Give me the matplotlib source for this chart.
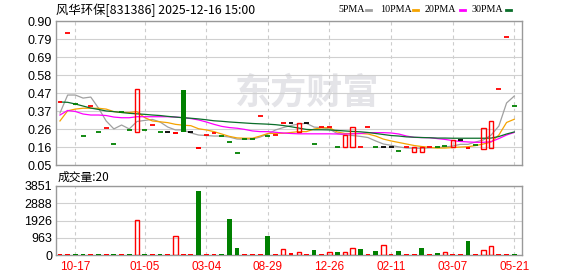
import numpy as np
import matplotlib
matplotlib.use('Agg')
import matplotlib.pyplot as plt
from matplotlib.lines import Line2D

plt.rcParams['font.family'] = ['Liberation Sans', 'Noto Sans CJK SC', 'DejaVu Sans']

# daily candles: open / close / colour kind (r red dash or small body, g green, k flat, h hollow red)
opens = [0.42, 0.827, 0.41, 0.223, 0.398, 0.243, 0.267, 0.172, 0.36, 0.257,
         0.247, 0.257, 0.286, 0.243, 0.243, 0.243, 0.493, 0.243, 0.158, 0.227,
         0.24, 0.223, 0.186, 0.119, 0.205, 0.205, 0.339, 0.221, 0.23, 0.296,
         0.296, 0.243, 0.296, 0.174, 0.272, 0.272, 0.155, 0.158, 0.158, 0.158,
         0.272, 0.155, 0.155, 0.155, 0.135, 0.158, 0.125, 0.125, 0.158, 0.158,
         0.165, 0.158, 0.198, 0.158, 0.17, 0.145, 0.148, 0.497, 0.806, 0.396]
closes = [0.42, 0.827, 0.41, 0.223, 0.398, 0.243, 0.267, 0.172, 0.36, 0.257,
          0.497, 0.257, 0.286, 0.243, 0.243, 0.232, 0.247, 0.243, 0.147, 0.227,
          0.24, 0.223, 0.186, 0.119, 0.205, 0.205, 0.339, 0.221, 0.23, 0.296,
          0.296, 0.296, 0.296, 0.174, 0.272, 0.272, 0.155, 0.227, 0.272, 0.158,
          0.272, 0.155, 0.155, 0.155, 0.135, 0.158, 0.158, 0.158, 0.158, 0.158,
          0.165, 0.198, 0.198, 0.146, 0.17, 0.27, 0.31, 0.497, 0.806, 0.396]
kinds = ['r', 'r', 'g', 'g', 'r', 'g', 'r', 'g', 'g', 'g',
         'h', 'g', 'r', 'g', 'k', 'r', 'g', 'k', 'r', 'r',
         'r', 'g', 'g', 'g', 'g', 'g', 'r', 'g', 'r', 'r',
         'k', 'h', 'k', 'g', 'r', 'r', 'g', 'h', 'h', 'r',
         'r', 'g', 'k', 'k', 'g', 'r', 'h', 'h', 'r', 'g',
         'g', 'h', 'k', 'r', 'g', 'h', 'h', 'r', 'r', 'g']

ma5 = [0.357, 0.463, 0.463, 0.445, 0.451, 0.386, 0.31, 0.263, 0.286, 0.263,
       0.307, 0.313, 0.319, 0.304, 0.274, 0.257, 0.257, 0.239, 0.227, 0.224,
       0.221, 0.221, 0.215, 0.203, 0.202, 0.203, 0.215, 0.233, 0.257, 0.271,
       0.283, 0.292, 0.296, 0.274, 0.27, 0.262, 0.236, 0.227, 0.224, 0.219,
       0.212, 0.192, 0.174, 0.166, 0.157, 0.15, 0.149, 0.149, 0.151, 0.153,
       0.156, 0.162, 0.172, 0.172, 0.186, 0.198, 0.227, 0.28, 0.416, 0.457]
ma10 = [0.31, 0.37, 0.38, 0.385, 0.385, 0.385, 0.38, 0.365, 0.36, 0.36,
        0.365, 0.33, 0.31, 0.305, 0.30, 0.29, 0.285, 0.282, 0.264, 0.257,
        0.247, 0.233, 0.219, 0.21, 0.208, 0.208, 0.221, 0.236, 0.237, 0.237,
        0.242, 0.247, 0.247, 0.262, 0.27, 0.27, 0.245, 0.236, 0.236, 0.236,
        0.233, 0.221, 0.203, 0.192, 0.183, 0.174, 0.165, 0.159, 0.154, 0.15,
        0.15, 0.153, 0.156, 0.158, 0.165, 0.174, 0.186, 0.227, 0.301, 0.32]
ma20 = [0.345, 0.372, 0.366, 0.351, 0.345, 0.345, 0.342, 0.333, 0.329, 0.329,
        0.335, 0.335, 0.335, 0.335, 0.335, 0.333, 0.329, 0.324, 0.316, 0.304,
        0.29, 0.278, 0.271, 0.267, 0.26, 0.251, 0.247, 0.247, 0.243, 0.239,
        0.236, 0.234, 0.234, 0.234, 0.234, 0.234, 0.233, 0.233, 0.234, 0.236,
        0.241, 0.241, 0.241, 0.239, 0.233, 0.221, 0.213, 0.212, 0.211, 0.206,
        0.201, 0.194, 0.189, 0.186, 0.184, 0.184, 0.188, 0.206, 0.227, 0.242]
ma30 = [0.422, 0.42, 0.41, 0.398, 0.386, 0.378, 0.369, 0.365, 0.36, 0.355,
        0.352, 0.349, 0.345, 0.342, 0.337, 0.333, 0.329, 0.326, 0.322, 0.317,
        0.311, 0.308, 0.304, 0.301, 0.298, 0.295, 0.293, 0.291, 0.288, 0.283,
        0.276, 0.268, 0.26, 0.258, 0.258, 0.257, 0.254, 0.251, 0.248, 0.246,
        0.242, 0.236, 0.23, 0.224, 0.221, 0.216, 0.214, 0.212, 0.211, 0.209,
        0.209, 0.208, 0.208, 0.208, 0.208, 0.208, 0.209, 0.218, 0.233, 0.245]

volume = [45, 45, 45, 45, 45, 45, 45, 45, 45, 45,
          1950, 45, 45, 45, 45, 1040, 45, 45, 3580, 45,
          45, 45, 2009, 390, 45, 45, 45, 1060, 45, 318,
          112, 150, 45, 279, 45, 150, 167, 150, 372, 335,
          45, 223, 540, 45, 240, 45, 45, 372, 45, 112,
          150, 45, 45, 781, 45, 260, 484, 45, 45, 56]
vol_kind = ['r', 'r', 'g', 'g', 'r', 'g', 'r', 'g', 'r', 'g',
            'h', 'g', 'r', 'g', 'r', 'h', 'r', 'r', 'g', 'r',
            'r', 'g', 'g', 'g', 'r', 'r', 'r', 'g', 'r', 'h',
            'r', 'h', 'r', 'g', 'r', 'h', 'g', 'h', 'h', 'g',
            'r', 'g', 'h', 'r', 'g', 'r', 'r', 'g', 'r', 'g',
            'h', 'r', 'r', 'g', 'r', 'h', 'h', 'r', 'r', 'g']

tick_idx = [2, 11, 19, 27, 35, 43, 51, 59]
tick_labels = ['10-17', '01-05', '03-04', '08-29', '12-26', '02-11', '03-07', '05-21']
price_ticks = np.linspace(0.05, 0.90, 9)
vol_max = 3851

RED = '#ff0000'
GREEN = '#008000'
col = {'r': RED, 'g': GREEN, 'k': '#000000', 'h': RED}

W, H = 578, 276
fig = plt.figure(figsize=(W / 100, H / 100), dpi=100)
ax = fig.add_axes([55.5 / W, 1 - 165 / H, 466 / W, 144 / H])
axv = fig.add_axes([55.5 / W, 1 - 255 / H, 466 / W, 69 / H])

x = np.arange(len(opens))

# price panel
for i in x:
    o, c, k = opens[i], closes[i], kinds[i]
    if o == c:
        ax.hlines(o, i - 0.32, i + 0.32, color=col[k], lw=1.3, zorder=4)
    elif k == 'h':
        ax.bar(i, abs(c - o), 0.56, bottom=min(o, c), facecolor='none',
               edgecolor=RED, lw=1.0, zorder=4)
    else:
        ax.bar(i, abs(c - o), 0.62, bottom=min(o, c), color=col[k], lw=0, zorder=4)

ax.plot(x, ma5, color='#a0a0a0', lw=0.9, zorder=3)
ax.plot(x, ma10, color='#f5a300', lw=0.9, zorder=3)
ax.plot(x, ma20, color='#ff00ff', lw=0.9, zorder=3)
ax.plot(x, ma30, color='#0a6e2a', lw=0.9, zorder=3)

ax.text(0.54, 0.5, '东方财富', transform=ax.transAxes, ha='center', va='center',
        fontsize=26, fontweight='bold', color='#e4e4e8', zorder=0,
        family=['Noto Sans CJK SC', 'DejaVu Sans'])

ax.set_ylim(0.05, 0.90)
ax.set_yticks(price_ticks)
ax.set_yticklabels(['%.2f' % v for v in price_ticks])

# volume panel
for i in x:
    k = vol_kind[i]
    if k == 'h':
        axv.bar(i, volume[i], 0.56, facecolor='none', edgecolor=RED, lw=1.0, zorder=3)
    else:
        axv.bar(i, volume[i], 0.62, color=col[k], lw=0, zorder=3)

vt = np.linspace(0, vol_max, 5)
axv.set_ylim(0, vol_max)
axv.set_yticks(vt)
axv.set_yticklabels(['%.0f' % v for v in vt])

for a in (ax, axv):
    a.set_xlim(-0.58, 59.94)
    a.set_xticks(tick_idx)
    a.grid(axis='y', color='#d0d0d0', lw=0.8)
    a.grid(axis='x', color='#cccccc', lw=0.8, linestyle=(0, (3, 3)))
    a.set_axisbelow(True)
    a.tick_params(length=0, labelsize=9, pad=2.5)
    for s in a.spines.values():
        s.set_color('#999999')
        s.set_linewidth(1.0)

ax.set_xticklabels([])
axv.set_xticklabels(tick_labels, color=RED, fontsize=8.5)
axv.tick_params(axis='x', pad=4)

# header and legend
fig.text(56 / W, 1 - 10 / H, '风华环保[831386] 2025-12-16 15:00', fontsize=8.9,
         va='center', ha='left', family=['Noto Sans CJK SC', 'DejaVu Sans'])
legend = [('5PMA', '#a0a0a0', 338, 366), ('10PMA', '#f5a300', 380, 413),
          ('20PMA', '#ff00ff', 425, 460), ('30PMA', '#0a6e2a', 472, 506)]
for name, c, px, dx in legend:
    fig.text(px / W, 1 - 10 / H, name, fontsize=7.2, va='center', ha='left',
             family='Liberation Serif')
    fig.add_artist(Line2D([dx / W, (dx + 5) / W], [1 - 10 / H, 1 - 10 / H],
                          color=c, lw=2, transform=fig.transFigure))

fig.text(58 / W, 1 - 177 / H, '成交量:20', fontsize=8.5, va='center', ha='left',
         family=['Noto Sans CJK SC', 'DejaVu Sans'])

fig.savefig('out.png', dpi=100)
